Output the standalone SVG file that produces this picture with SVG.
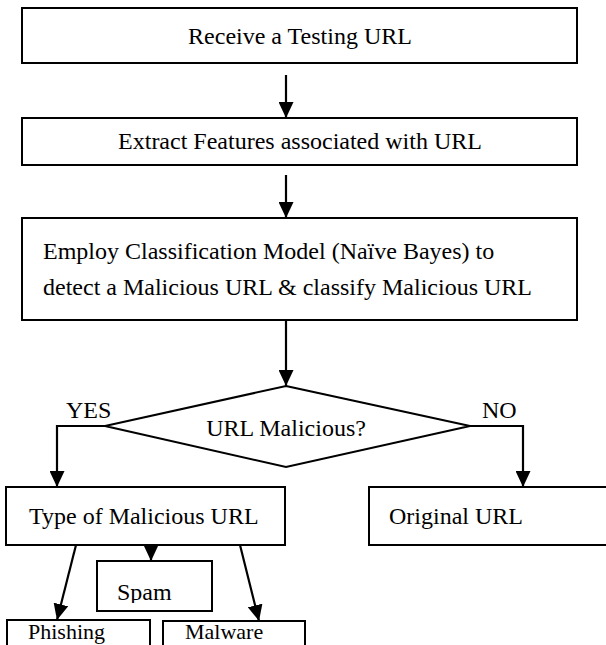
<svg xmlns="http://www.w3.org/2000/svg" width="606" height="645" viewBox="0 0 606 645">
<style>
.box{fill:#fff;stroke:#000;stroke-width:2}
.t{font-family:"Liberation Serif","Times New Roman","DejaVu Serif",serif;font-size:24px;fill:#000}
.s{font-size:22px}
.c{text-anchor:middle}
.ln{fill:none;stroke:#000;stroke-width:2.2}
</style>
<defs>
<marker id="ah" markerUnits="userSpaceOnUse" markerWidth="16" markerHeight="15" refX="16" refY="7.5" orient="auto" viewBox="0 0 16 15">
<path d="M0,0 L16,7.5 L0,15 z" fill="#000"/>
</marker>
<clipPath id="clipSpam"><rect x="97" y="561" width="115" height="42"/></clipPath>
</defs>
<rect width="606" height="645" fill="#fff"/>
<g id="n1"><rect class="box" x="22" y="8" width="555" height="55"/><text class="t c" x="300" y="44">Receive a Testing URL</text></g>
<g id="n2"><rect class="box" x="22" y="118" width="555" height="47"/><text class="t c" x="300" y="149">Extract Features associated with URL</text></g>
<g id="n3"><rect class="box" x="22" y="218" width="555" height="102"/><text class="t" x="43" y="259">Employ Classification Model (Naïve Bayes) to</text><text class="t" x="43" y="295">detect a Malicious URL &amp; classify Malicious URL</text></g>
<g id="n4"><polygon class="box" points="286,386 470,426 286,467 105,426"/><text class="t c" x="286" y="436">URL Malicious?</text></g>
<g id="n5"><rect class="box" x="6" y="487" width="279" height="58"/><text class="t" x="29" y="524">Type of Malicious URL</text></g>
<g id="n6"><rect class="box" x="369" y="487" width="250" height="58"/><text class="t" x="389" y="524">Original URL</text></g>
<g id="n7"><rect class="box" x="97" y="561" width="115" height="50"/><text class="t" x="117" y="600" clip-path="url(#clipSpam)">Spam</text></g>
<g id="n8"><rect class="box" x="7" y="620" width="143" height="40"/><text class="t s" x="28" y="639">Phishing</text></g>
<g id="n9"><rect class="box" x="163" y="621" width="142" height="40"/><text class="t s" x="185" y="639">Malware</text></g>
<g id="connectors">
<line class="ln" x1="286" y1="75" x2="286" y2="118" marker-end="url(#ah)"/>
<line class="ln" x1="286" y1="175" x2="286" y2="218" marker-end="url(#ah)"/>
<line class="ln" x1="286" y1="320" x2="286" y2="386" marker-end="url(#ah)"/>
<polyline class="ln" points="105,426 57,426 57,487" marker-end="url(#ah)"/>
<polyline class="ln" points="470,426 523,426 523,487" marker-end="url(#ah)"/>
<line class="ln" x1="76" y1="545" x2="57" y2="620" marker-end="url(#ah)"/>
<line class="ln" x1="151" y1="545" x2="151" y2="561" marker-end="url(#ah)"/>
<line class="ln" x1="240" y1="545" x2="259" y2="621" marker-end="url(#ah)"/>
<text class="t" x="66" y="418">YES</text>
<text class="t" x="482" y="418">NO</text>
</g>
</svg>
